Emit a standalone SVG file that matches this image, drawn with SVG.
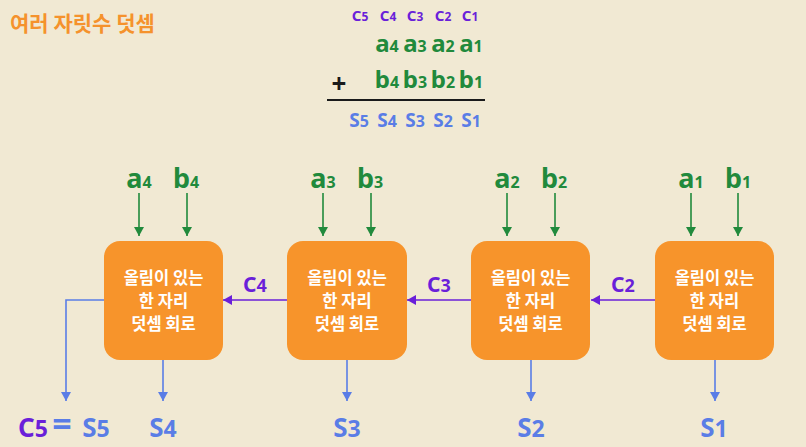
<svg xmlns="http://www.w3.org/2000/svg" width="806" height="447" viewBox="0 0 806 447">
<style>
text{font-family:"Noto Sans CJK KR","Noto Sans",sans-serif;font-weight:700}
.lat{font-family:"Noto Sans","Noto Sans CJK KR",sans-serif}
.title{fill:#f5922c;font-size:21px}
.box{fill:#f7942b}
.bt{fill:#ffffff;font-size:16.5px;text-anchor:middle}
.g{fill:#218a3c;text-anchor:middle}
.p{fill:#6a1fd9;text-anchor:middle}
.b{fill:#5a7de6;text-anchor:middle}
.lg{stroke:#218a3c;stroke-width:1.6;fill:none}
.lp{stroke:#6a1fd9;stroke-width:1.6;fill:none}
.lb{stroke:#5a7de6;stroke-width:1.6;fill:none}
</style>
<defs>
<marker id="ag" markerUnits="userSpaceOnUse" markerWidth="12" markerHeight="12" refX="9" refY="5" orient="auto"><path d="M0,0 L9,5 L0,10 Z" fill="#218a3c"/></marker>
<marker id="ap" markerUnits="userSpaceOnUse" markerWidth="12" markerHeight="12" refX="9" refY="5" orient="auto"><path d="M0,0 L9,5 L0,10 Z" fill="#6a1fd9"/></marker>
<marker id="ab" markerUnits="userSpaceOnUse" markerWidth="12" markerHeight="12" refX="9" refY="5" orient="auto"><path d="M0,0 L9,5 L0,10 Z" fill="#5a7de6"/></marker>
</defs>
<rect width="806" height="447" fill="#f1e9d3"/>
<text class="title" x="10" y="31">여러 자릿수 덧셈</text>

<g id="equation" class="lat">
<text class="p lat" font-size="15" x="360" y="21">C<tspan font-size="12">5</tspan></text>
<text class="p lat" font-size="15" x="388" y="21">C<tspan font-size="12">4</tspan></text>
<text class="p lat" font-size="15" x="415" y="21">C<tspan font-size="12">3</tspan></text>
<text class="p lat" font-size="15" x="443" y="21">C<tspan font-size="12">2</tspan></text>
<text class="p lat" font-size="15" x="470" y="21">C<tspan font-size="12">1</tspan></text>
<text class="g lat" font-size="24" x="387" y="52">a<tspan font-size="16">4</tspan></text>
<text class="g lat" font-size="24" x="415" y="52">a<tspan font-size="16">3</tspan></text>
<text class="g lat" font-size="24" x="443" y="52">a<tspan font-size="16">2</tspan></text>
<text class="g lat" font-size="24" x="471" y="52">a<tspan font-size="16">1</tspan></text>
<text class="g lat" font-size="24" x="387" y="88">b<tspan font-size="16">4</tspan></text>
<text class="g lat" font-size="24" x="415" y="88">b<tspan font-size="16">3</tspan></text>
<text class="g lat" font-size="24" x="443" y="88">b<tspan font-size="16">2</tspan></text>
<text class="g lat" font-size="24" x="471" y="88">b<tspan font-size="16">1</tspan></text>
<text class="lat" x="339" y="93" font-size="26" font-weight="900" fill="#1a1a1a" text-anchor="middle">+</text>
<line x1="327" y1="100" x2="485" y2="100" stroke="#1a1a1a" stroke-width="2.2"/>
<text class="b lat" font-size="19" x="359" y="127">S<tspan font-size="16">5</tspan></text>
<text class="b lat" font-size="19" x="387" y="127">S<tspan font-size="16">4</tspan></text>
<text class="b lat" font-size="19" x="415" y="127">S<tspan font-size="16">3</tspan></text>
<text class="b lat" font-size="19" x="443" y="127">S<tspan font-size="16">2</tspan></text>
<text class="b lat" font-size="19" x="471" y="127">S<tspan font-size="16">1</tspan></text>
</g>

<g id="adder4">
<rect class="box" x="104" y="241" width="119" height="119" rx="16"/>
<text class="bt" x="163.5" y="284">올림이 있는</text>
<text class="bt" x="163.5" y="307">한 자리</text>
<text class="bt" x="163.5" y="330">덧셈 회로</text>
</g>
<g id="adder3">
<rect class="box" x="287" y="241" width="120" height="119" rx="16"/>
<text class="bt" x="347" y="284">올림이 있는</text>
<text class="bt" x="347" y="307">한 자리</text>
<text class="bt" x="347" y="330">덧셈 회로</text>
</g>
<g id="adder2">
<rect class="box" x="471" y="241" width="119" height="119" rx="16"/>
<text class="bt" x="530.5" y="284">올림이 있는</text>
<text class="bt" x="530.5" y="307">한 자리</text>
<text class="bt" x="530.5" y="330">덧셈 회로</text>
</g>
<g id="adder1">
<rect class="box" x="655" y="241" width="119" height="119" rx="16"/>
<text class="bt" x="714.5" y="284">올림이 있는</text>
<text class="bt" x="714.5" y="307">한 자리</text>
<text class="bt" x="714.5" y="330">덧셈 회로</text>
</g>

<g id="labels">
<text class="g lat" font-size="27" x="139" y="188">a<tspan font-size="16">4</tspan></text>
<text class="g lat" font-size="27" x="186" y="188">b<tspan font-size="16">4</tspan></text>
<text class="g lat" font-size="27" x="323" y="188">a<tspan font-size="16">3</tspan></text>
<text class="g lat" font-size="27" x="370" y="188">b<tspan font-size="16">3</tspan></text>
<text class="g lat" font-size="27" x="507" y="188">a<tspan font-size="16">2</tspan></text>
<text class="g lat" font-size="27" x="554" y="188">b<tspan font-size="16">2</tspan></text>
<text class="g lat" font-size="27" x="691" y="188">a<tspan font-size="16">1</tspan></text>
<text class="g lat" font-size="27" x="738" y="188">b<tspan font-size="16">1</tspan></text>
<text class="p lat" font-size="21" x="255" y="292">C<tspan font-size="18">4</tspan></text>
<text class="p lat" font-size="21" x="439" y="292">C<tspan font-size="18">3</tspan></text>
<text class="p lat" font-size="21" x="623" y="292">C<tspan font-size="18">2</tspan></text>
<text class="b lat" font-size="26" x="163" y="437">S<tspan font-size="23">4</tspan></text>
<text class="b lat" font-size="26" x="347" y="437">S<tspan font-size="23">3</tspan></text>
<text class="b lat" font-size="26" x="531" y="437">S<tspan font-size="23">2</tspan></text>
<text class="b lat" font-size="26" x="714" y="437">S<tspan font-size="23">1</tspan></text>
<text class="p lat" font-size="26" x="33" y="437">C<tspan font-size="23">5</tspan></text>
<text class="b lat" font-size="34" font-weight="900" x="62" y="436">=</text>
<text class="b lat" font-size="26" x="96" y="437">S<tspan font-size="23">5</tspan></text>
</g>

<g id="connectors">
<line class="lg" x1="139" y1="193" x2="139" y2="236" marker-end="url(#ag)"/>
<line class="lg" x1="187" y1="193" x2="187" y2="236" marker-end="url(#ag)"/>
<line class="lg" x1="323" y1="193" x2="323" y2="236" marker-end="url(#ag)"/>
<line class="lg" x1="371" y1="193" x2="371" y2="236" marker-end="url(#ag)"/>
<line class="lg" x1="507" y1="193" x2="507" y2="236" marker-end="url(#ag)"/>
<line class="lg" x1="555" y1="193" x2="555" y2="236" marker-end="url(#ag)"/>
<line class="lg" x1="691" y1="193" x2="691" y2="236" marker-end="url(#ag)"/>
<line class="lg" x1="738" y1="193" x2="738" y2="236" marker-end="url(#ag)"/>
<line class="lp" x1="287" y1="300" x2="223" y2="300" marker-end="url(#ap)"/>
<line class="lp" x1="471" y1="300" x2="407" y2="300" marker-end="url(#ap)"/>
<line class="lp" x1="655" y1="300" x2="591" y2="300" marker-end="url(#ap)"/>
<polyline class="lb" points="104,300 66,300 66,401" marker-end="url(#ab)"/>
<line class="lb" x1="163" y1="360" x2="163" y2="401" marker-end="url(#ab)"/>
<line class="lb" x1="347" y1="360" x2="347" y2="401" marker-end="url(#ab)"/>
<line class="lb" x1="531" y1="360" x2="531" y2="401" marker-end="url(#ab)"/>
<line class="lb" x1="715" y1="360" x2="715" y2="401" marker-end="url(#ab)"/>
</g>
</svg>
